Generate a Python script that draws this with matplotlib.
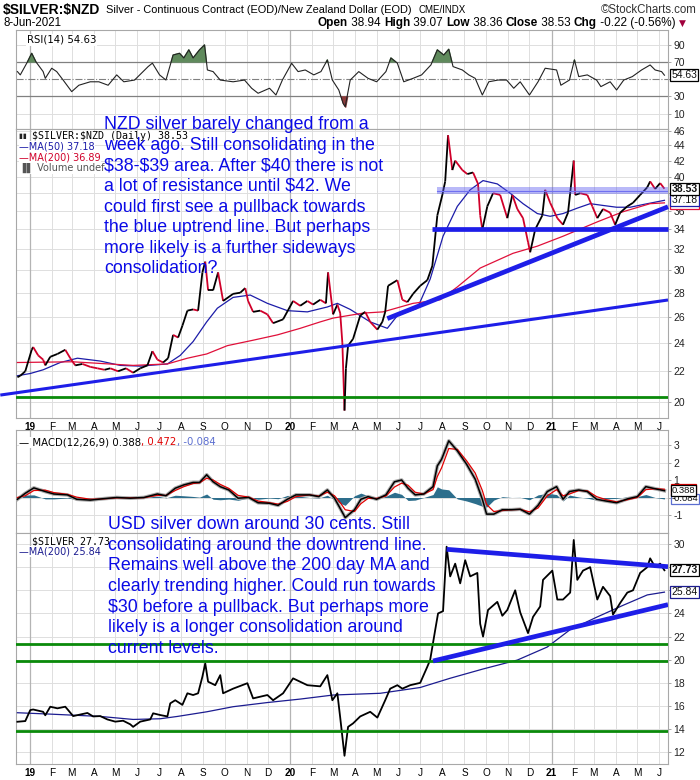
import numpy as np
import pandas as pd
import matplotlib
matplotlib.use("Agg")
import matplotlib.pyplot as plt
import matplotlib.dates as mdates
from matplotlib.collections import LineCollection
from matplotlib.ticker import FixedLocator, FixedFormatter, NullLocator, NullFormatter

plt.rcParams['font.family'] = ['Liberation Sans', 'DejaVu Sans']
plt.rcParams['text.parse_math'] = False

# ---- values ----
nzd_close = [("2018-12-15",21.6),("2018-12-19",21.7),("2018-12-26",22.0),("2019-01-04",23.5),("2019-01-06",23.7),
    ("2019-01-13",23.1),("2019-01-20",22.8),("2019-01-23",22.4),("2019-01-30",23.0),("2019-02-09",23.2),
    ("2019-02-20",23.5),("2019-02-27",22.9),("2019-03-06",22.4),("2019-03-16",22.5),("2019-03-27",22.3),
    ("2019-04-06",22.2),("2019-04-16",22.1),("2019-04-24",22.2),("2019-05-05",22.0),("2019-05-16",22.2),
    ("2019-05-26",21.9),("2019-06-05",22.2),("2019-06-15",22.4),("2019-06-22",23.4),("2019-06-29",22.8),
    ("2019-07-07",22.6),("2019-07-14",22.9),("2019-07-21",24.6),("2019-07-28",24.4),("2019-08-03",25.3),
    ("2019-08-10",26.5),("2019-08-18",26.6),("2019-08-25",26.5),("2019-08-31",29.8),("2019-09-04",30.8),
    ("2019-09-08",28.2),("2019-09-15",28.2),("2019-09-22",29.8),("2019-09-29",27.3),("2019-10-13",27.9),
    ("2019-10-23",28.0),("2019-10-30",28.4),("2019-11-03",27.3),("2019-11-10",26.4),("2019-11-20",26.5),
    ("2019-11-30",26.2),("2019-12-08",25.5),("2019-12-22",25.8),("2020-01-05",27.3),("2020-01-15",26.9),
    ("2020-01-25",27.3),("2020-02-02",27.0),("2020-02-12",27.4),("2020-02-20",27.1),("2020-02-23",29.8),
    ("2020-03-01",26.2),("2020-03-07",27.0),("2020-03-11",26.3),("2020-03-14",24.0),("2020-03-17",19.5),
    ("2020-03-19",22.2),("2020-03-22",23.8),("2020-03-29",24.3),("2020-04-08",26.1),("2020-04-15",26.4),
    ("2020-04-22",25.6),("2020-05-02",25.0),("2020-05-09",25.6),("2020-05-13",26.4),("2020-05-17",28.6),
    ("2020-05-30",29.1),("2020-06-06",27.4),("2020-06-13",27.2),("2020-06-21",27.9),("2020-07-01",28.6),
    ("2020-07-11",29.1),("2020-07-18",30.4),("2020-07-25",35.5),("2020-08-01",37.8),("2020-08-05",39.4),
    ("2020-08-09",45.4),("2020-08-15",40.8),("2020-08-19",42.0),("2020-08-29",40.8),("2020-09-05",40.3),
    ("2020-09-13",40.5),("2020-09-20",39.1),("2020-09-23",35.5),("2020-09-26",34.0),("2020-10-03",36.5),
    ("2020-10-11",38.0),("2020-10-21",37.8),("2020-10-31",35.2),("2020-11-07",37.8),("2020-11-14",36.2),
    ("2020-11-22",35.2),("2020-11-29",32.7),("2020-12-02",31.7),("2020-12-09",34.0),("2020-12-19",35.5),
    ("2020-12-23",38.4),("2020-12-30",36.9),("2021-01-09",35.2),("2021-01-17",34.5),("2021-01-24",35.8),
    ("2021-02-01",42.0),("2021-02-03",37.8),("2021-02-10",38.0),("2021-02-20",37.8),("2021-02-27",36.5),
    ("2021-03-06",35.2),("2021-03-14",36.2),("2021-03-24",35.8),("2021-03-31",34.5),("2021-04-07",35.8),
    ("2021-04-17",36.5),("2021-04-25",36.9),("2021-05-05",37.8),("2021-05-15",38.7),("2021-05-19",39.4),
    ("2021-05-26",38.5),("2021-06-02",39.2),("2021-06-08",38.53)]

nzd_ma50 = [("2018-12-15",21.7),("2019-01-02",21.85),("2019-01-20",22.1),("2019-02-13",22.6),("2019-03-09",22.9),
    ("2019-04-10",22.7),("2019-05-08",22.4),("2019-06-05",22.35),("2019-07-13",22.5),("2019-07-31",23.1),
    ("2019-08-18",24.1),("2019-09-06",25.6),("2019-09-21",26.7),("2019-10-13",27.6),("2019-11-06",27.8),
    ("2019-11-30",27.1),("2019-12-28",26.5),("2020-01-25",26.4),("2020-02-22",26.8),("2020-03-07",27.1),
    ("2020-03-25",26.6),("2020-04-22",25.6),("2020-05-16",25.1),("2020-05-30",26.1),("2020-06-27",26.7),
    ("2020-07-15",29.2),("2020-08-02",33.3),("2020-08-22",36.5),("2020-09-09",38.4),("2020-09-27",39.5),
    ("2020-10-17",39.1),("2020-11-04",38.0),("2020-11-22",36.8),("2020-12-12",35.7),("2020-12-30",35.4),
    ("2021-01-17",35.7),("2021-02-06",36.3),("2021-02-24",36.8),("2021-03-14",36.6),("2021-04-02",36.4),
    ("2021-04-21",36.4),("2021-05-09",36.7),("2021-06-08",37.18)]

nzd_ma200 = [("2018-12-15",22.6),("2019-03-02",22.65),("2019-05-26",22.4),("2019-07-13",22.5),("2019-08-10",22.9),
    ("2019-09-06",23.2),("2019-10-05",23.8),("2019-11-10",24.2),("2019-12-14",24.6),("2020-01-15",25.1),
    ("2020-02-12",25.6),("2020-03-01",25.9),("2020-04-12",26.3),("2020-05-10",26.4),("2020-06-21",27.1),
    ("2020-07-29",27.4),("2020-08-22",28.5),("2020-09-23",30.2),("2020-11-08",31.6),("2020-12-12",32.3),
    ("2021-01-17",33.3),("2021-03-06",34.8),("2021-04-11",35.9),("2021-05-19",36.8),("2021-06-08",36.89)]

usd_close = [("2018-12-15",14.64),("2018-12-26",14.7),("2019-01-02",15.65),("2019-01-06",15.7),("2019-01-20",15.5),
    ("2019-01-23",15.2),("2019-01-30",15.94),("2019-02-09",15.8),("2019-02-20",15.94),("2019-02-24",15.65),
    ("2019-03-03",15.13),("2019-03-23",15.4),("2019-03-31",15.1),("2019-04-10",15.13),("2019-04-20",14.84),
    ("2019-05-01",14.65),("2019-05-12",14.73),("2019-05-22",14.42),("2019-05-26",14.2),("2019-06-05",14.65),
    ("2019-06-19",14.84),("2019-06-23",15.37),("2019-07-03",15.22),("2019-07-13",15.1),("2019-07-17",16.23),
    ("2019-07-24",16.5),("2019-08-03",16.1),("2019-08-10",17.1),("2019-08-18",16.95),("2019-08-25",17.1),
    ("2019-08-31",18.53),("2019-09-04",19.69),("2019-09-08",18.1),("2019-09-18",17.8),("2019-09-25",18.67),
    ("2019-09-29",17.1),("2019-10-13",17.5),("2019-11-02",17.97),("2019-11-10",16.66),("2019-11-30",16.95),
    ("2019-12-08",16.5),("2019-12-22",17.1),("2020-01-05",18.39),("2020-01-25",17.8),("2020-02-12",17.7),
    ("2020-02-22",18.67),("2020-02-29",16.5),("2020-03-07",17.1),("2020-03-11",15.0),("2020-03-17",11.7),
    ("2020-03-22",14.2),("2020-03-29",14.5),("2020-04-08",15.1),("2020-04-22",15.5),("2020-05-02",15.0),
    ("2020-05-13",16.5),("2020-05-20",17.5),("2020-05-30",17.8),("2020-06-06",17.5),("2020-06-17",17.8),
    ("2020-07-01",18.0),("2020-07-11",19.4),("2020-07-15",20.0),("2020-07-22",22.57),("2020-07-26",24.0),
    ("2020-08-02",24.2),("2020-08-07",29.77),("2020-08-12",27.2),("2020-08-19",28.3),("2020-08-26",26.6),
    ("2020-09-02",28.6),("2020-09-09",27.2),("2020-09-19",27.5),("2020-09-23",23.1),("2020-09-27",22.0),
    ("2020-10-04",24.3),("2020-10-17",25.0),("2020-10-24",23.8),("2020-10-31",24.3),("2020-11-11",26.0),
    ("2020-11-18",24.1),("2020-11-29",22.3),("2020-12-06",23.7),("2020-12-16",24.6),("2020-12-20",26.9),
    ("2021-01-02",27.7),("2021-01-09",25.2),("2021-01-17",25.2),("2021-01-27",25.8),("2021-02-01",30.35),
    ("2021-02-06",26.9),("2021-02-14",27.7),("2021-02-24",28.0),("2021-03-06",25.2),("2021-03-14",26.3),
    ("2021-03-24",25.5),("2021-03-28",23.9),("2021-04-07",24.9),("2021-04-17",25.8),("2021-04-25",26.0),
    ("2021-05-05",27.5),("2021-05-15",28.0),("2021-05-19",28.76),("2021-05-26",28.0),("2021-06-02",28.3),
    ("2021-06-08",27.73)]

usd_ma200 = [("2018-12-15",15.42),("2019-01-30",15.3),("2019-04-10",15.1),("2019-05-26",14.84),("2019-07-03",14.9),
    ("2019-07-27",15.1),("2019-09-06",15.5),("2019-10-13",15.94),("2019-11-30",16.3),("2020-01-15",16.6),
    ("2020-03-01",16.95),("2020-05-06",17.1),("2020-07-01",17.6),("2020-08-12",18.4),("2020-09-27",19.2),
    ("2020-11-14",19.97),("2020-12-26",21.1),("2021-01-27",22.6),("2021-03-06",23.7),("2021-04-11",24.7),
    ("2021-05-15",25.6),("2021-06-08",25.84)]

rsi14 = [("2018-12-15",58.8),("2018-12-19",55),("2018-12-29",70),("2019-01-04",80),("2019-01-10",70),
    ("2019-01-20",58.8),("2019-01-23",51),("2019-02-01",62.7),("2019-02-08",58.8),("2019-02-17",49),
    ("2019-03-01",35.6),("2019-03-11",43),("2019-03-27",47),("2019-04-08",47),("2019-04-21",43),
    ("2019-05-03",55),("2019-05-13",47),("2019-05-28",49),("2019-06-16",64.6),("2019-06-22",68.6),
    ("2019-07-02",55),("2019-07-11",49),("2019-07-21",78),("2019-07-30",80),("2019-08-05",74.6),
    ("2019-08-12",84),("2019-08-18",74.6),("2019-08-27",84),("2019-09-03",89.7),("2019-09-07",60.7),
    ("2019-09-15",58.8),("2019-09-25",49),("2019-10-13",47),("2019-10-29",49),("2019-11-08",39.5),
    ("2019-11-17",33.7),("2019-12-03",39.5),("2019-12-12",31.7),("2019-12-21",49),("2020-01-03",68.4),
    ("2020-01-12",58.8),("2020-01-22",60.7),("2020-02-03",55),("2020-02-13",58.8),("2020-02-22",72.3),
    ("2020-02-29",49),("2020-03-09",37.5),("2020-03-15",22),("2020-03-18",18.2),("2020-03-25",49),
    ("2020-04-06",58.8),("2020-04-19",51),("2020-05-01",47),("2020-05-14",58.8),("2020-05-21",74.6),
    ("2020-05-30",68.6),("2020-06-08",47),("2020-06-21",51),("2020-07-03",55),("2020-07-16",66.5),
    ("2020-07-25",84),("2020-08-03",78),("2020-08-10",84.7),("2020-08-16",64.6),("2020-08-29",60.7),
    ("2020-09-07",55),("2020-09-16",51),("2020-09-26",31.7),("2020-10-05",47),("2020-10-18",49),
    ("2020-10-30",49),("2020-11-09",39.5),("2020-11-18",47),("2020-12-01",31.7),("2020-12-13",47),
    ("2020-12-23",62.7),("2021-01-08",60.7),("2021-01-14",43),("2021-01-26",49),("2021-02-02",72.3),
    ("2021-02-08",53),("2021-02-20",55),("2021-03-05",49),("2021-03-11",41.4),("2021-03-24",47),
    ("2021-04-02",37.5),("2021-04-12",49),("2021-04-24",53),("2021-05-07",60.7),("2021-05-19",66.5),
    ("2021-05-26",60.7),("2021-06-04",58.8),("2021-06-08",54.63)]

macd_dates = ["2018-12-15","2018-12-26","2019-01-07","2019-01-23","2019-02-04","2019-02-23","2019-03-08",
    "2019-03-27","2019-04-14","2019-05-03","2019-05-22","2019-06-10","2019-06-29","2019-07-11","2019-07-24",
    "2019-08-05","2019-08-18","2019-08-27","2019-09-06","2019-09-15","2019-09-25","2019-10-07","2019-10-20",
    "2019-11-04","2019-11-17","2019-12-03","2019-12-15","2019-12-28","2020-01-09","2020-01-28","2020-02-10",
    "2020-02-22","2020-03-03","2020-03-12","2020-03-18","2020-03-31","2020-04-09","2020-04-19","2020-05-01",
    "2020-05-14","2020-05-26","2020-06-05","2020-06-14","2020-06-24","2020-07-06","2020-07-19","2020-07-25",
    "2020-07-31","2020-08-10","2020-08-22","2020-09-04","2020-09-16","2020-09-26","2020-10-02","2020-10-12",
    "2020-10-24","2020-11-06","2020-11-18","2020-12-01","2020-12-13","2020-12-26","2021-01-08","2021-01-17",
    "2021-01-26","2021-02-08","2021-02-20","2021-03-05","2021-03-18","2021-04-02","2021-04-18","2021-05-01",
    "2021-05-13","2021-05-26","2021-06-08"]
macd_line = [-0.1, 0.24, 0.55, 0.34, 0.2, 0.15, -0.1, -0.15, -0.07, 0.0, -0.04, 0.0, 0.2, 0.1, 0.53,
    0.72, 0.86, 0.86, 1.3, 0.9, 0.62, 0.43, -0.04, 0.0, -0.3, -0.33, -0.45, -0.1, 0.15, 0.15, 0.05,
    0.43, -0.04, -0.7, -1.15, -0.7, -0.1, 0.05, -0.1, 0.15, 0.9, 1.0, 0.53, 0.15, 0.2, 0.62, 1.81,
    2.19, 3.24, 2.67, 1.9, 1.05, -0.1, -0.95, -0.95, -0.7, -0.7, -0.67, -0.95, -0.45, 0.34, 0.62, -0.1,
    0.34, 0.43, 0.34, -0.1, -0.2, -0.3, -0.07, 0.05, 0.62, 0.5, 0.388]
macd_signal = [0.0, 0.1, 0.4, 0.42, 0.28, 0.18, 0.02, -0.1, -0.08, -0.02, -0.02, -0.01, 0.12, 0.12, 0.4,
    0.62, 0.8, 0.84, 1.1, 1.0, 0.75, 0.52, 0.12, 0.02, -0.2, -0.3, -0.38, -0.22, 0.05, 0.15, 0.08,
    0.3, 0.1, -0.35, -0.7, -0.8, -0.35, -0.05, -0.05, 0.08, 0.6, 0.82, 0.7, 0.3, 0.2, 0.45, 1.2,
    1.7, 2.8, 2.75, 2.1, 1.4, 0.4, -0.4, -0.8, -0.75, -0.7, -0.68, -0.82, -0.6, 0.1, 0.45, 0.1,
    0.2, 0.4, 0.38, 0.05, -0.12, -0.25, -0.12, 0.0, 0.45, 0.5, 0.472]

# trend lines drawn on the chart (date, price) end points
nzd_long_trend = [("2018-11-21", 20.45), ("2021-06-13", 27.38)]
nzd_short_trend = [("2020-05-16", 25.86), ("2021-06-13", 36.45)]
nzd_support = [("2020-07-17", 34.0), ("2021-06-13", 34.0)]
nzd_band = [("2020-07-25", 37.9, 38.7)]
nzd_green = 20.35
usd_down_trend = [("2020-08-07", 29.54), ("2021-06-13", 28.04)]
usd_up_trend = [("2020-07-19", 19.89), ("2021-06-13", 24.76)]
usd_green = [21.35, 19.85, 13.85]

main_note = ("NZD silver barely changed from a\nweek ago. Still consolidating in the\n"
             "$38-$39 area. After $40 there is not\na lot of resistance until $42. We\n"
             "could first see a pullback towards\nthe blue uptrend line. But perhaps\n"
             "more likely is a further sideways\nconsolidation?")
usd_note = ("USD silver down around 30 cents. Still\nconsolidating around the downtrend line.\n"
            "Remains well above the 200 day MA and\nclearly trending higher. Could run towards\n"
            "$30 before a pullback. But perhaps more\nlikely is a longer consolidation around\n"
            "current levels.")


def split(pairs):
    d = mdates.date2num(pd.to_datetime([p[0] for p in pairs]))
    v = np.array([p[1] for p in pairs], dtype=float)
    return d, v


W, H = 700, 780
fig = plt.figure(figsize=(7, 7.8), dpi=100)
fig.patch.set_facecolor('white')


def panel(l, t, r, b):
    return fig.add_axes([l / W, 1 - b / H, (r - l) / W, (b - t) / H])


def ftext(x, y, s, **kw):
    return fig.text(x / W, 1 - y / H, s, **kw)


x0 = mdates.date2num(pd.Timestamp("2018-12-13"))
x1 = mdates.date2num(pd.Timestamp("2021-06-13"))
months = pd.date_range("2019-01-01", "2021-06-01", freq="MS")
month_nums = mdates.date2num(months)
month_labels = []
for m in months:
    month_labels.append(m.strftime("%y") if m.month == 1 else m.strftime("%b")[0])

blue = '#1e1ee8'
note_blue = '#0a0ae6'


def style(ax, xlabels=False):
    ax.set_facecolor('white')
    for s in ax.spines.values():
        s.set_color('#a8a8a8')
        s.set_linewidth(0.8)
    ax.set_xlim(x0, x1)
    ax.yaxis.tick_right()
    ax.tick_params(axis='y', which='both', direction='out', length=2, width=0.6,
                   colors='#999999', labelcolor='#222222', labelsize=7.5, pad=2)
    ax.set_xticks(month_nums)
    ax.tick_params(axis='x', length=0, pad=3)
    ax.set_axisbelow(True)
    ax.grid(True, color='#dedede', lw=0.7)
    for m, lab in zip(month_nums, month_labels):
        if lab.isdigit():
            ax.axvline(m, color='#b4b4b4', lw=0.9, zorder=0.6)
    if xlabels:
        ax.set_xticklabels(month_labels, fontsize=7.2)
        for t in ax.get_xticklabels():
            if t.get_text().isdigit():
                t.set_fontweight('bold')
    else:
        ax.set_xticklabels([])


def yticks(ax, vals, hidden=()):
    # tick labels sitting under a value tag are left blank, as in the original
    ax.yaxis.set_major_locator(FixedLocator(vals))
    ax.yaxis.set_major_formatter(FixedFormatter(["" if v in hidden else f"{v:g}" for v in vals]))
    ax.yaxis.set_minor_locator(NullLocator())
    ax.yaxis.set_minor_formatter(NullFormatter())


def tag(ax, y, text, ec, bold=False, size=7.5):
    ax.annotate(text, xy=(1, y), xycoords=('axes fraction', 'data'), xytext=(2.5, 0),
                textcoords='offset points', ha='left', va='center', fontsize=size,
                fontweight='bold' if bold else 'normal', color='#111111',
                bbox=dict(boxstyle='square,pad=0.1', fc='white', ec=ec, lw=0.9),
                annotation_clip=False, zorder=10)


def price_line(ax, d, v, lw=1.3):
    pts = np.column_stack([d, v])
    segs = np.stack([pts[:-1], pts[1:]], axis=1)
    cols = ['#d0002a' if b < a else 'black' for a, b in zip(v[:-1], v[1:])]
    ax.add_collection(LineCollection(segs, colors=cols, linewidths=lw, zorder=4))


# ---------------- RSI panel ----------------
ax_rsi = panel(16, 30, 668, 129)
style(ax_rsi)
ax_rsi.set_ylim(-7.7, 107)
yticks(ax_rsi, [10, 30, 50, 70, 90], hidden=(50,))
ax_rsi.grid(False, axis='y')
for lv in [10, 90]:
    ax_rsi.axhline(lv, color='#dedede', lw=0.7, zorder=0.5)
ax_rsi.axhline(70, color='#808080', lw=0.9, zorder=1)
ax_rsi.axhline(30, color='#808080', lw=0.9, zorder=1)
ax_rsi.axhline(50, color='#808080', lw=0.8, ls='-.', zorder=1)
rd, rv = split(rsi14)
ax_rsi.fill_between(rd, rv, 70, where=rv > 70, interpolate=True, color='#5f8a5c', zorder=2)
ax_rsi.fill_between(rd, rv, 30, where=rv < 30, interpolate=True, color='#8c3b3b', zorder=2)
ax_rsi.plot(rd, rv, color='#222222', lw=0.8, zorder=3)
tag(ax_rsi, 54.63, "54.63", 'black')
ax_rsi.text(0.017, 0.95, "RSI(14) 54.63", transform=ax_rsi.transAxes, fontsize=7.3,
            family='DejaVu Sans', va='top', ha='left',
            bbox=dict(fc='white', ec='none', pad=0.5), zorder=6)

# ---------------- header ----------------
ftext(3, 10, "$SILVER:$NZD", fontsize=10, fontweight='bold', va='center')
ftext(106, 10, "Silver - Continuous Contract (EOD)/New Zealand Dollar (EOD)", fontsize=7.9,
      va='center')
ftext(418, 10, "CME/INDX", fontsize=7, va='center')
ftext(697, 10, "\u00a9StockCharts.com", fontsize=8.3, va='center', ha='right', color='#333333')
ftext(3, 23, "8-Jun-2021", fontsize=8.3, va='center')
parts = [("Open", True), (" 38.94 ", False), ("High", True), (" 39.07 ", False), ("Low", True),
         (" 38.36 ", False), ("Close", True), (" 38.53 ", False), ("Chg", True), (" -0.22 (-0.56%) ", False)]
last = ftext(318, 23, parts[0][0], fontsize=8.5, va='center', fontweight='bold')
for s, b in parts[1:]:
    last = ax_rsi.annotate(s, xy=(1, 0), xycoords=last, va='bottom', ha='left', fontsize=8.5,
                           fontweight='bold' if b else 'normal', annotation_clip=False)
ax_rsi.annotate("\u25bc", xy=(1, 0.1), xycoords=last, va='bottom', ha='left', fontsize=6.5,
                family='DejaVu Sans', color='#a0003c', annotation_clip=False)

# ---------------- main NZD panel ----------------
ax = panel(16, 129, 668, 418)
style(ax, xlabels=True)
ax.set_yscale('log')
ax.set_ylim(19.06, 46.28)
yticks(ax, list(range(20, 48, 2)), hidden=(38,))

nd, nv = split(nzd_close)
price_line(ax, nd, nv)
md, mv = split(nzd_ma50)
ax.plot(md, mv, color='#1c1ca8', lw=0.9, zorder=3)
md2, mv2 = split(nzd_ma200)
ax.plot(md2, mv2, color='#e0103a', lw=0.9, zorder=3)

ax.axhline(nzd_green, color='#0a8a0a', lw=2.0, zorder=5)
bd = mdates.date2num(pd.Timestamp(nzd_band[0][0]))
ax.fill_between([bd, x1], nzd_band[0][1], nzd_band[0][2], color='#5a5af0', alpha=0.42, lw=0, zorder=5)
ax.plot([bd, x1], [38.3, 38.3], color='#7070f0', lw=0.8, zorder=5)
for line, lw in [(nzd_support, 3.4), (nzd_short_trend, 3.4), (nzd_long_trend, 2.2)]:
    d, v = split(line)
    ax.plot(d, v, color=blue, lw=lw, zorder=6, clip_on=False, solid_capstyle='butt')

tag(ax, 36.89, "36.89", '#e0103a')
tag(ax, 37.18, "37.18", '#1c1ca8')
tag(ax, 38.53, "38.53", 'black', bold=True)

leg = dict(transform=ax.transAxes, va='center', ha='left', zorder=8)
ax.text(0.005, 0.975, "\u25ae\u25ae ", fontsize=5, color='#222222', family='DejaVu Sans', **leg)
ax.text(0.025, 0.975, "$SILVER:$NZD (Daily) 38.53", fontsize=7.2, family='DejaVu Sans Mono',
        bbox=dict(fc='white', ec='none', pad=0.3), **leg)
ax.text(0.005, 0.94, "\u2014MA(50) 37.18", fontsize=7, color='#1c1ca8', family='DejaVu Sans',
        bbox=dict(fc='white', ec='none', pad=0.3), **leg)
ax.text(0.005, 0.90, "\u2014MA(200) 36.89", fontsize=7, color='#d0002a', family='DejaVu Sans',
        bbox=dict(fc='white', ec='none', pad=0.3), **leg)
ax.text(0.005, 0.864, "\u2590\u258c Volume undef", fontsize=7, color='#555555', family='DejaVu Sans',
        bbox=dict(fc='white', ec='none', pad=0.3), **leg)

ftext(104, 116, main_note, fontsize=12.8, color=note_blue, va='top', ha='left',
      linespacing=1.28, zorder=20)

# ---------------- MACD panel ----------------
ax_m = panel(16, 430, 668, 533)
style(ax_m)
ax_m.set_ylim(-2.03, 3.86)
yticks(ax_m, [-1, 0, 1, 2, 3], hidden=(0,))
cd = mdates.date2num(pd.to_datetime(macd_dates))
ml = np.array(macd_line)
ms = np.array(macd_signal)
ax_m.fill_between(cd, 0, ml - ms, color='#2d6e8c', lw=0, zorder=2)
ax_m.plot(cd, ml, color='#aaaaaa', lw=2.6, zorder=3)
ax_m.plot(cd, ms, color='#e00000', lw=0.9, zorder=4)
ax_m.plot(cd, ml, color='black', lw=1.1, zorder=5)
tag(ax_m, 0.472, "0.472", '#e00000', size=6.8)
tag(ax_m, -0.084, "-0.084", '#5b6ed0', size=6.8)
tag(ax_m, 0.388, "0.388", 'black', size=6.8)
t1 = ax_m.text(0.005, 0.88, "\u2014 MACD(12,26,9) 0.388", transform=ax_m.transAxes, fontsize=7.3,
               family='DejaVu Sans', va='center', ha='left', zorder=8,
               bbox=dict(fc='white', ec='none', pad=0.3))
t2 = ax_m.annotate(", 0.472", xy=(1, 0), xycoords=t1, va='bottom', ha='left', fontsize=7.3,
                   family='DejaVu Sans', color='#e00000', zorder=8)
ax_m.annotate(", -0.084", xy=(1, 0), xycoords=t2, va='bottom', ha='left', fontsize=7.3,
              family='DejaVu Sans', color='#5b6ed0', zorder=8)

# ---------------- USD panel ----------------
ax_u = panel(16, 533, 668, 764)
style(ax_u, xlabels=True)
ax_u.set_ylim(10.99, 30.95)
yticks(ax_u, list(range(12, 32, 2)), hidden=(26, 28))
ud, uv = split(usd_close)
ax_u.plot(ud, uv, color='black', lw=1.3, zorder=4)
ad, av = split(usd_ma200)
ax_u.plot(ad, av, color='#1c1c90', lw=0.9, zorder=3)
for g in usd_green:
    ax_u.axhline(g, color='#0a8a0a', lw=2.0, zorder=5)
for line in [usd_down_trend, usd_up_trend]:
    d, v = split(line)
    ax_u.plot(d, v, color=blue, lw=3.4, zorder=6, solid_capstyle='butt')
tag(ax_u, 25.84, "25.84", '#1c1c90')
tag(ax_u, 27.73, "27.73", 'black', bold=True)
lg = dict(transform=ax_u.transAxes, va='center', ha='left', zorder=8)
ax_u.text(0.025, 0.965, "$SILVER 27.73", fontsize=7.2, family='DejaVu Sans Mono',
          bbox=dict(fc='white', ec='none', pad=0.3), **lg)
ax_u.text(0.005, 0.92, "\u2014MA(200) 25.84", fontsize=7, color='#1c1c90', family='DejaVu Sans',
          bbox=dict(fc='white', ec='none', pad=0.3), **lg)

ftext(108, 516, usd_note, fontsize=12.8, color=note_blue, va='top', ha='left',
      linespacing=1.28, zorder=20)

fig.savefig("out.png", dpi=100, facecolor='white')
